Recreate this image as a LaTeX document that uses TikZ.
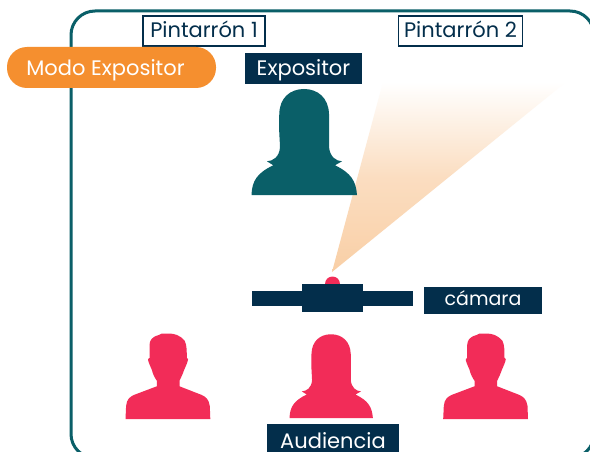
\documentclass[tikz,border=0pt]{standalone}
\usepackage{fontspec}
\setmainfont{Poppins}
\definecolor{teal1}{HTML}{0A5F68}
\definecolor{navy1}{HTML}{032E4B}
\definecolor{red1}{HTML}{F22C58}
\definecolor{orange1}{HTML}{F58F2F}
\definecolor{peach1}{HTML}{F9CFA6}
\tikzset{
  x=1pt,y=-1pt,
  navybox/.style={fill=navy1,text=white,inner sep=0pt,text height=18pt,text depth=3pt,font=\fontsize{21}{24}\selectfont},
  outlinebox/.style={draw=navy1,line width=1.3pt,fill=white,text=navy1,inner sep=0pt,text height=18pt,text depth=3pt,font=\fontsize{21}{24}\selectfont},
  pics/woman/.style={code={
    \fill[#1] (-52.5,0) .. controls (-52,-14) and (-47,-22) .. (-30.7,-29.7)
      -- (-37,-33.7) .. controls (-31,-34) and (-24.5,-38) .. (-24,-48)
      .. controls (-24.5,-60) and (-25.5,-70) .. (-24.7,-81)
      .. controls (-24.5,-97) and (-14,-106) .. (0,-106)
      .. controls (14,-106) and (24.5,-97) .. (25,-81)
      .. controls (25.5,-70) and (25,-60) .. (25,-48)
      .. controls (26,-38) and (32,-34) .. (38,-33.7)
      -- (31,-29.7) .. controls (47,-22) and (52,-14) .. (53,0) -- cycle;
  }},
  pics/man/.style={code={
    \fill[#1] (-42.3,0) -- (-41.7,-13) .. controls (-41,-20) and (-38,-22) .. (-34,-24)
      -- (-11,-32.7) -- (-11,-38.3) .. controls (-13,-41) and (-15,-45) .. (-16,-49.3)
      .. controls (-18,-54) and (-20,-58) .. (-19.7,-60) -- (-18.3,-61)
      -- (-18.3,-74) .. controls (-18,-79) and (-16,-82) .. (-9,-84)
      .. controls (-8,-85.5) and (-6,-85.5) .. (0,-85.5)
      .. controls (7,-85.5) and (12,-84) .. (17,-78)
      .. controls (19,-74) and (19,-68) .. (19,-61)
      -- (20.3,-60) .. controls (20,-57) and (18,-53) .. (16.3,-49)
      .. controls (15,-45) and (13,-41) .. (11.7,-38.3) -- (11.7,-32.7)
      -- (34,-24) .. controls (38,-22) and (41,-20) .. (42,-13) -- (42.5,0) -- cycle;
  }}
}
\begin{document}
\begin{tikzpicture}
\useasboundingbox (0,0) rectangle (590,452);
\clip (0,0) rectangle (590,452);
\fill[white] (0,0) rectangle (590,452);
\draw[teal1,line width=3pt,rounded corners=24pt] (71,11) rectangle (594,458);
\node[outlinebox,minimum width=122pt,minimum height=30pt,text height=16pt,text depth=3pt] (pint1) at (204,31) {Pintarrón 1};
\node[outlinebox,minimum width=124pt,minimum height=30pt,text height=16pt,text depth=3pt] (pint2) at (460.5,31) {Pintarrón 2};
\node[fill=orange1,text=white,rounded corners=20pt,minimum width=209pt,minimum height=41pt,inner sep=0pt,text height=19pt,text depth=2pt,font=\fontsize{21}{24}\selectfont] (modo) at (111.5,67.5) {\hspace*{-12pt}Modo Expositor};
\shade[top color=white,bottom color=peach1,middle color=peach1!70!white] (332,272) -- (383,82) -- (566,82) -- cycle;
\pic at (304,195) {woman={teal1}};
\node[navybox,minimum width=117pt,minimum height=31pt] (expositor) at (303.5,68.5) {Expositor};
\fill[red1] (332.5,284) circle[radius=7.5];
\node[fill=navy1,minimum width=161pt,minimum height=15pt,inner sep=0pt] (bar) at (332.5,298.5) {};
\node[fill=navy1,minimum width=61pt,minimum height=28pt,inner sep=0pt] (cam) at (332.5,298) {};
\node[navybox,minimum width=118pt,minimum height=27pt,text height=16pt,text depth=7pt,font=\fontsize{19}{22}\selectfont] (camara) at (483,300.5) {cámara};
\pic at (167.8,419) {man={red1}};
\pic[yscale=0.79,xscale=0.79] at (331,418) {woman={red1}};
\pic at (485.5,419) {man={red1}};
\node[navybox,minimum width=132pt,minimum height=28pt,text height=21pt,text depth=0pt] (audiencia) at (333,438) {Audiencia};
\end{tikzpicture}
\end{document}
